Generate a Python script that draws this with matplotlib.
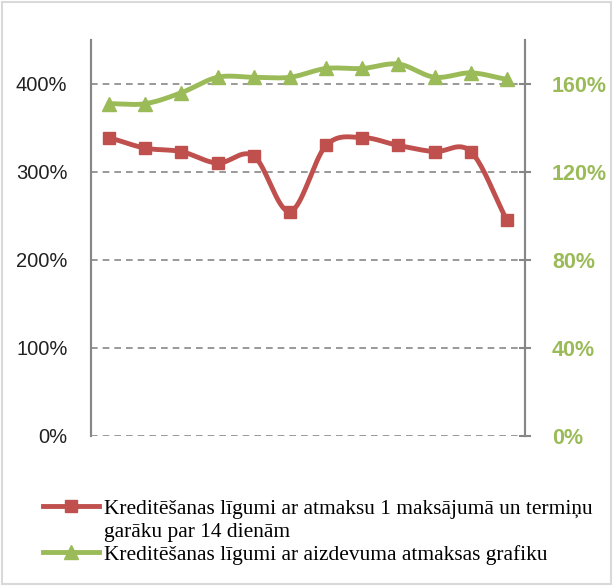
import numpy as np
import matplotlib.pyplot as plt
from matplotlib.patches import Rectangle

# data (12 unlabelled periods)
periods = np.arange(12)
red_vals = [339, 327, 323, 310, 318, 255, 330, 339, 330, 323, 323, 245]      # left axis, %
green_vals = [151, 151, 156, 163, 163, 163, 167, 167, 169, 163, 165, 162]    # right axis, %
left_ticks = [0, 100, 200, 300, 400]
right_ticks = [0, 40, 80, 120, 160]
red_label = ["Kreditēšanas līgumi ar atmaksu 1 maksājumā un termiņu",
             "garāku par 14 dienām"]
green_label = "Kreditēšanas līgumi ar aizdevuma atmaksas grafiku"

RED = "#C0504D"
GREEN = "#9BBB59"
GREY = "#878787"


def smooth(x, y, n=20):
    # Catmull-Rom curve through the points, like Excel's smoothed line
    x = np.asarray(x, float)
    y = np.asarray(y, float)
    px = np.concatenate([[2 * x[0] - x[1]], x, [2 * x[-1] - x[-2]]])
    py = np.concatenate([[2 * y[0] - y[1]], y, [2 * y[-1] - y[-2]]])
    xs, ys = [], []
    t = np.linspace(0, 1, n, endpoint=False)
    for i in range(1, len(px) - 2):
        for p, out in ((px, xs), (py, ys)):
            p0, p1, p2, p3 = p[i - 1], p[i], p[i + 1], p[i + 2]
            out.extend(0.5 * (2 * p1 + (-p0 + p2) * t
                              + (2 * p0 - 5 * p1 + 4 * p2 - p3) * t ** 2
                              + (-p0 + 3 * p1 - 3 * p2 + p3) * t ** 3))
    xs.append(x[-1])
    ys.append(y[-1])
    return np.array(xs), np.array(ys)


fig = plt.figure(figsize=(6.13, 5.86), dpi=100)
fig.patches.append(Rectangle((0.003, 0.003), 0.994, 0.994, transform=fig.transFigure,
                             fill=False, edgecolor="#D9D9D9", linewidth=1.5))

ax = fig.add_axes([0.1485, 0.256, 0.708, 0.676])
ax2 = ax.twinx()

ax.set_xlim(-0.5, 11.5)
ax.set_ylim(0, 450)
ax2.set_ylim(0, 180)

for t in left_ticks:
    ax.axhline(t, color=GREY, linestyle=(0, (4, 3)), linewidth=1.2, zorder=1)

xs, ys = smooth(periods, red_vals)
ax.plot(xs, ys, color=RED, linewidth=3.5, zorder=3)
ax.plot(periods, red_vals, linestyle="none", marker="s", markersize=8.5, color=RED, zorder=4)

xs, ys = smooth(periods, green_vals)
ax2.plot(xs, ys, color=GREEN, linewidth=3.5, zorder=3)
ax2.plot(periods, green_vals, linestyle="none", marker="^", markersize=9.5, color=GREEN, zorder=4)

ax.set_yticks(left_ticks)
ax.set_yticklabels([f"{v}%" for v in left_ticks], fontsize=14.5, color="#222222",
                   family="Liberation Sans")
ax2.set_yticks(right_ticks)
ax2.set_yticklabels([f"{v}%" for v in right_ticks], fontsize=15.5, color=GREEN,
                    fontweight="bold", family="Liberation Sans")
ax.set_xticks([])

for a in (ax, ax2):
    a.spines["top"].set_visible(False)
    a.spines["bottom"].set_visible(False)
    a.spines["left"].set_color(GREY)
    a.spines["right"].set_color(GREY)
    a.spines["left"].set_linewidth(1.5)
    a.spines["right"].set_linewidth(1.5)
ax.tick_params(axis="y", length=0, pad=17)
ax2.tick_params(axis="y", direction="inout", length=9, width=1.5, color=GREY, pad=15)

h1 = plt.Line2D([], [], color=RED, linewidth=3.5, marker="s", markersize=8.5)
h_blank = plt.Line2D([], [], linestyle="none")
h2 = plt.Line2D([], [], color=GREEN, linewidth=3.5, marker="^", markersize=9.5)
fig.legend([h1, h_blank, h2], [red_label[0], red_label[1], green_label], loc="upper left",
           bbox_to_anchor=(0.070, 0.149), frameon=False, handlelength=2.6,
           handletextpad=0.25, labelspacing=0.14, borderpad=0, borderaxespad=0,
           prop={"family": "Liberation Serif", "size": 15.4})

fig.savefig("out.png", dpi=100)
